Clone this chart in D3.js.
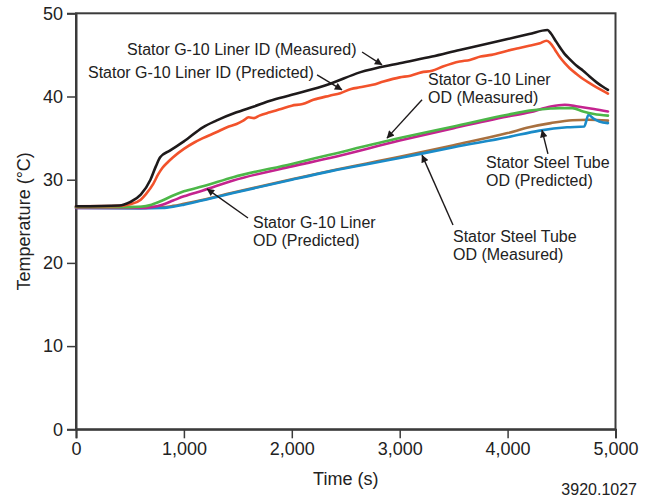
<!DOCTYPE html>
<html>
<head>
<meta charset="utf-8">
<script src="https://cdn.jsdelivr.net/npm/d3@7"></script>
<style>
  html, body { margin: 0; padding: 0; background: #fff; }
  svg { display: block; font-family: "Liberation Sans", Arial, Helvetica, sans-serif; }
</style>
</head>
<body>
<svg id="chart" width="651" height="499"></svg>
<script>
// ---------- data ----------
const xTicks = [0, 1000, 2000, 3000, 4000, 5000];
const yTicks = [0, 10, 20, 30, 40, 50];

const idMeasuredT = [0,400,500,600,690,740,780,870,1000,1176,1300,1488,1650,1800,2000,2350,2630,3000,3300,3556,3800,4000,4200,4370,4400,4440,4480,4530,4575,4640,4700,4760,4825,4880,4930];
const idMeasuredV = [26.8,26.9,27.3,28.2,30.0,31.6,32.7,33.5,34.6,36.3,37.1,38.1,38.8,39.5,40.2,41.5,42.9,44.0,44.8,45.6,46.3,46.9,47.5,48.0,47.6,46.8,46.0,45.1,44.5,43.7,43.1,42.4,41.7,41.2,40.8];

const idPredictedT = [0,400,500,600,650,716,760,800,850,900,1000,1100,1176,1300,1400,1488,1550,1600,1650,1700,1796,1900,2000,2100,2200,2350,2450,2550,2630,2750,2850,3000,3100,3200,3300,3400,3556,3650,3750,3850,4000,4100,4200,4300,4360,4390,4440,4480,4530,4575,4640,4700,4760,4825,4880,4930];
const idPredictedV = [26.8,26.85,27.05,27.6,28.3,29.5,30.6,31.4,32.1,32.7,33.7,34.5,35.0,35.7,36.3,36.7,37.1,37.5,37.4,37.7,38.1,38.5,38.9,39.1,39.6,40.1,40.4,40.9,41.1,41.4,41.8,42.3,42.5,42.9,43.1,43.6,44.2,44.4,44.8,45.0,45.5,45.8,46.1,46.4,46.7,46.5,45.6,44.8,44.0,43.4,42.7,42.1,41.6,41.1,40.7,40.35];

const odMeasuredT = [0,500,600,700,800,900,1000,1176,1457,2000,2352,3000,3500,4000,4204,4400,4480,4600,4700,4800,4930];
const odMeasuredV = [26.7,26.7,26.75,27.0,27.5,28.1,28.6,29.2,30.3,31.9,33.0,35.0,36.4,37.8,38.3,38.55,38.6,38.6,38.2,37.9,37.7];

const odPredictedT = [0,600,700,800,900,1000,1176,1457,2000,2352,3000,3500,4000,4204,4400,4530,4650,4800,4930];
const odPredictedV = [26.6,26.6,26.7,27.0,27.5,28.0,28.7,29.9,31.6,32.6,34.7,36.2,37.6,38.1,38.8,39.0,38.8,38.5,38.2];

const tubeMeasuredT = [0,600,800,900,1000,1200,1457,2000,2352,3000,3500,4000,4296,4550,4710,4750,4800,4850,4930];
const tubeMeasuredV = [26.6,26.55,26.6,26.75,27.0,27.6,28.4,30.0,31.0,32.6,33.9,35.1,35.9,36.3,36.4,37.8,37.3,37.0,36.8];

const tubePredictedT = [0,600,800,900,1000,1200,1457,2000,2352,3000,3500,4000,4200,4400,4600,4750,4930];
const tubePredictedV = [26.7,26.7,26.7,26.85,27.1,27.65,28.45,30.05,31.05,32.75,34.15,35.6,36.3,36.8,37.15,37.2,37.1];

const seriesNames = ["Stator Steel Tube OD (Predicted)", "Stator Steel Tube OD (Measured)",
  "Stator G-10 Liner OD (Predicted)", "Stator G-10 Liner OD (Measured)",
  "Stator G-10 Liner ID (Predicted)", "Stator G-10 Liner ID (Measured)"];
const seriesTimes = [tubePredictedT, tubeMeasuredT, odPredictedT, odMeasuredT, idPredictedT, idMeasuredT];
const seriesValues = [tubePredictedV, tubeMeasuredV, odPredictedV, odMeasuredV, idPredictedV, idMeasuredV];
const seriesColors = ["#a8703f", "#1a8bc8", "#c4238f", "#4cb748", "#f2522b", "#1e1a1b"];

// annotation labels: lines, anchor (time, temp), arrow tail and head (time, temp)
const labelLines = [
  ["Stator G-10 Liner ID (Measured)"],
  ["Stator G-10 Liner ID (Predicted)"],
  ["Stator G-10 Liner", "OD (Measured)"],
  ["Stator Steel Tube", "OD (Predicted)"],
  ["Stator G-10 Liner", "OD (Predicted)"],
  ["Stator Steel Tube", "OD (Measured)"]
];
const labelAnchors = [[473, 45.0], [111, 42.2], [3262, 41.4], [3800, 31.4], [1640, 24.2], [3494, 22.55]];
const arrowTails = [[2651, 45.35], [2234, 42.6], [3207, 39.6], [4374, 33.1], [1594, 25.4], [3494, 24.55]];
const arrowHeads = [[2836, 43.8], [2465, 40.8], [2882, 35.0], [4319, 35.95], [1214, 28.9], [3207, 32.95]];

// ---------- drawing ----------
const svg = d3.select("#chart");
const mLeft = 76, mRight = 615.5, mTop = 13.3, mBottom = 429.3;
const x = d3.scaleLinear().domain([0, 5000]).range([mLeft, mRight]);
const y = d3.scaleLinear().domain([0, 50]).range([mBottom, mTop]);
const axisColor = "#3b3b3b";

svg.append("rect").attr("width", 651).attr("height", 499).attr("fill", "#fff");

// frame
svg.append("rect")
  .attr("x", mLeft).attr("y", mTop)
  .attr("width", mRight - mLeft).attr("height", mBottom - mTop)
  .attr("fill", "none").attr("stroke", axisColor).attr("stroke-width", 2);

// x axis
const xAxis = svg.append("g").attr("transform", `translate(0,${mBottom})`)
  .call(d3.axisBottom(x).tickValues(xTicks).tickFormat(d3.format(",")).tickSize(9).tickPadding(4));
// y axis
const yAxis = svg.append("g").attr("transform", `translate(${mLeft},0)`)
  .call(d3.axisLeft(y).tickValues(yTicks).tickSize(9).tickPadding(4));
[xAxis, yAxis].forEach(g => {
  g.select(".domain").attr("stroke", axisColor).attr("stroke-width", 2);
  g.selectAll(".tick line").attr("stroke", axisColor).attr("stroke-width", 1.5);
  g.selectAll(".tick text").attr("fill", "#222").style("font-size", "18px")
    .style("font-family", "'Liberation Sans', Arial, sans-serif");
});

// axis titles
svg.append("text").attr("x", x(2500)).attr("y", 485)
  .attr("text-anchor", "middle").attr("fill", "#222").style("font-size", "18px")
  .text("Time (s)");
svg.append("text")
  .attr("transform", `translate(29.5,${(mTop + mBottom) / 2}) rotate(-90)`)
  .attr("text-anchor", "middle").attr("fill", "#222").style("font-size", "18px")
  .text("Temperature (°C)");
svg.append("text").attr("x", 637).attr("y", 495)
  .attr("text-anchor", "end").attr("fill", "#222").style("font-size", "16px")
  .text("3920.1027");

// lines
const line = d3.line().x(d => x(d[0])).y(d => y(d[1])).curve(d3.curveMonotoneX);
seriesNames.forEach((name, i) => {
  const pts = seriesTimes[i].map((t, j) => [t, seriesValues[i][j]]);
  svg.append("path").datum(pts)
    .attr("d", line)
    .attr("fill", "none")
    .attr("stroke", seriesColors[i])
    .attr("stroke-width", 2.6)
    .attr("stroke-linejoin", "round")
    .attr("stroke-linecap", "round")
    .append("title").text(name);
});

// arrowhead marker
svg.append("defs").append("marker")
  .attr("id", "ah").attr("viewBox", "0 0 10 10")
  .attr("refX", 9.5).attr("refY", 5)
  .attr("markerWidth", 10).attr("markerHeight", 7.5)
  .attr("markerUnits", "userSpaceOnUse")
  .attr("orient", "auto")
  .append("path").attr("d", "M0,0 L10,5 L0,10 Z").attr("fill", "#1e1a1b");

// annotations
labelLines.forEach((lines, i) => {
  const t = svg.append("text")
    .attr("x", x(labelAnchors[i][0])).attr("y", y(labelAnchors[i][1]))
    .attr("fill", "#222").style("font-size", "16px");
  lines.forEach((ln, k) => {
    t.append("tspan").attr("x", x(labelAnchors[i][0])).attr("dy", k === 0 ? 0 : "1.14em").text(ln);
  });
  svg.append("line")
    .attr("x1", x(arrowTails[i][0])).attr("y1", y(arrowTails[i][1]))
    .attr("x2", x(arrowHeads[i][0])).attr("y2", y(arrowHeads[i][1]))
    .attr("stroke", "#1e1a1b").attr("stroke-width", 1.4)
    .attr("marker-end", "url(#ah)");
});
</script>
</body>
</html>
